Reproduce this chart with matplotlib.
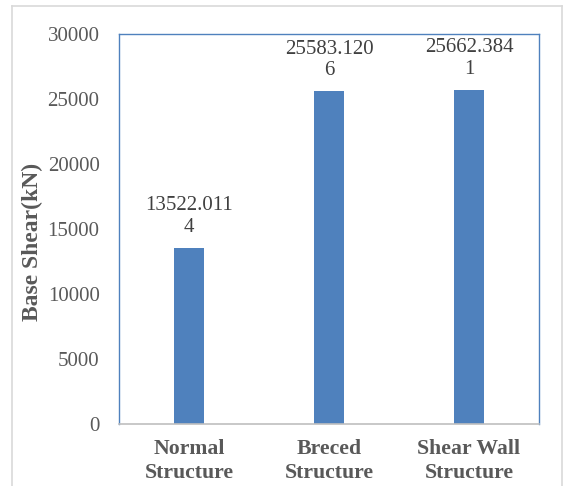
import matplotlib.pyplot as plt
from matplotlib.lines import Line2D

categories = ["Normal\nStructure", "Breced\nStructure", "Shear Wall\nStructure"]
base_shear = [13522.0114, 25583.1206, 25662.3841]
yticks = [0, 5000, 10000, 15000, 20000, 25000, 30000]

plt.rcParams['font.family'] = ['Liberation Serif', 'DejaVu Serif']
blue = '#4F81BD'
gray = '#595959'

fig = plt.figure(figsize=(5.65, 4.86), dpi=100)
ax = fig.add_axes([119/565, 62/486, 420/565, 390/486])

x = range(len(categories))
bars = ax.bar(x, base_shear, width=0.22, color=blue)

# data labels wrap after 9 characters like the original
for xi, v in zip(x, base_shear):
    s = str(v)
    lab = s[:9] + "\n" + s[9:]
    ax.annotate(lab, (xi, v), xytext=(0, 8), textcoords='offset points',
                ha='center', va='bottom', fontsize=15, color='#404040',
                linespacing=1.2)

ax.set_xlim(-0.5, 2.5)
ax.set_ylim(0, 30000)
ax.set_yticks(yticks)
ax.set_xticks(list(x))
ax.set_xticklabels(categories, fontsize=15.7, fontweight='bold', color=gray,
                   linespacing=1.25)
ax.tick_params(axis='y', length=0, pad=14, labelsize=15, labelcolor=gray)
ax.tick_params(axis='x', length=0, pad=11)
ax.set_ylabel("Base Shear(kN)", fontsize=17, fontweight='bold', color=gray)
ax.yaxis.set_label_coords(-0.18, 0.467)

for side in ['left', 'top', 'right']:
    ax.spines[side].set_color(blue)
    ax.spines[side].set_linewidth(1.0)
ax.spines['bottom'].set_color('#BFBFBF')
ax.spines['bottom'].set_linewidth(1.2)

# outer chart frame
fc = '#D9D9D9'
fig.add_artist(Line2D([12/565, 562/565], [1 - 6.5/486, 1 - 6.5/486],
                      transform=fig.transFigure, color=fc, lw=1.2))
fig.add_artist(Line2D([12/565, 12/565], [0, 1 - 6.5/486],
                      transform=fig.transFigure, color=fc, lw=1.2))
fig.add_artist(Line2D([562/565, 562/565], [0, 1 - 6.5/486],
                      transform=fig.transFigure, color=fc, lw=1.2))

plt.savefig("out.png", dpi=100)
